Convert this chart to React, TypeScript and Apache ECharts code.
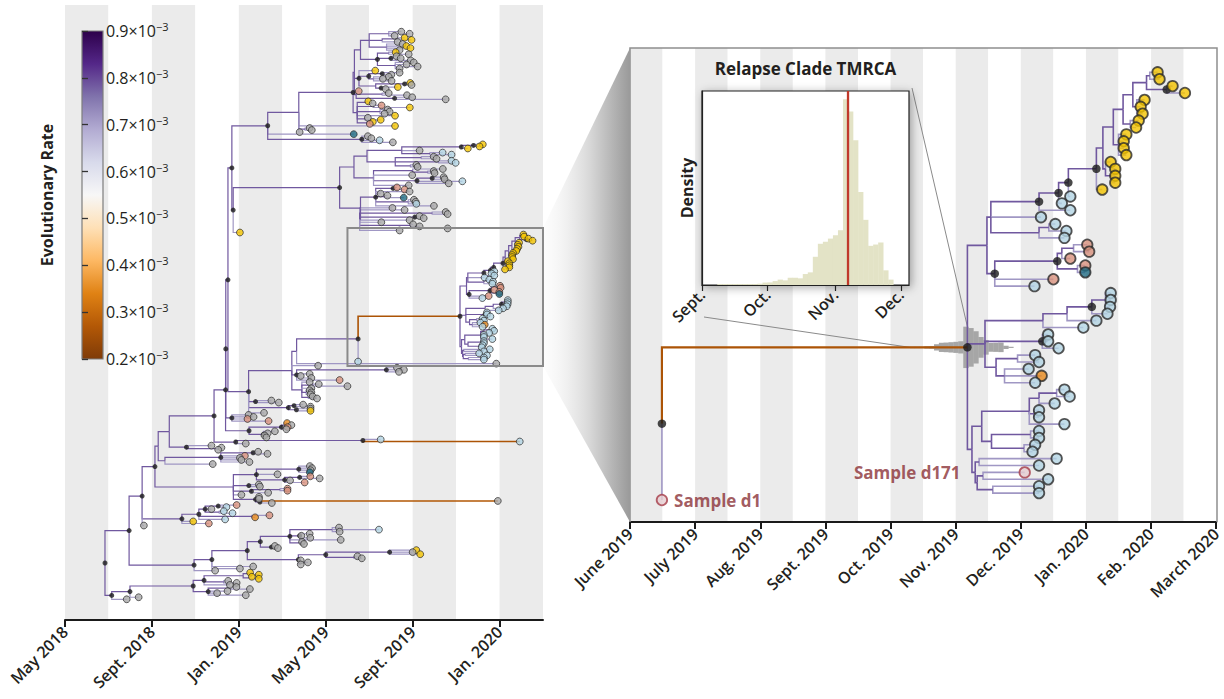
import React, { useEffect, useRef } from 'react';
import * as echarts from 'echarts';

// ---------------- data ----------------
const leftTickValues = [0, 4, 8, 12, 16, 20];
const leftTickLabels = ['May 2018', 'Sept. 2018', 'Jan. 2019', 'May 2019', 'Sept. 2019', 'Jan. 2020'];
const leftAxisMax = 22;
const leftBandMonths = 2;
const rightTickValues = [13, 14, 15, 16, 17, 18, 19, 20, 21, 22];
const rightTickLabels = ['June 2019', 'July 2019', 'Aug. 2019', 'Sept. 2019', 'Oct. 2019', 'Nov. 2019', 'Dec. 2019', 'Jan. 2020', 'Feb. 2020', 'March 2020'];
const rightBandMonths = 0.5;
const zoomWindow = [13, 22];

const histTickValues = [0, 30, 61, 91];
const histTickLabels = ['Sept.', 'Oct.', 'Nov.', 'Dec.'];
const histAxisMaxDay = 94.7;
const histStartDay = 7.0;
const histBinDays = 2.3;
const histHeights = [0.5, 0.5, 0.5, 0.5, 0.5, 0.5, 0.5, 0.5, 0.7, 1.3, 1.4, 2.1, 2.9, 2.5, 3.9, 3.9, 3.6, 5.9, 6.8, 15.2, 22.2, 23.3, 25.0, 26.8, 29.5, 100, 93.4, 78.0, 50.1, 35.1, 21.1, 21.8, 22.9, 7.9, 2.9];
const histMax = 104.5;
const tmrcaDay = 66.8;
const histMonthDays = [30, 31, 30, 31];
const histStartMonth = 16; // Sept. 2019, in months since May 2018

const rateTicks = [0.2, 0.3, 0.4, 0.5, 0.6, 0.7, 0.8, 0.9];
const rateStops = [0.2, 0.27, 0.34, 0.41, 0.48, 0.55, 0.62, 0.69, 0.76, 0.83, 0.9];
const rateColors = ['#7f3b08', '#b35806', '#e08214', '#fdb863', '#fee0b6', '#f7f7f7', '#d8daeb', '#b2abd2', '#8073ac', '#542788', '#2d004b'];
const defaultInternalRate = 0.785;
const defaultTipRate = 0.715;

const tipColors: Record<string, string> = {
  g: '#a9a9a9', y: '#f4c400', s: '#d8917d', b: '#b3d4e3', t: '#1e6a82', o: '#e9891c', d: '#b3d4e3',
};

// Tree in compact Newick-like form; times in months since May 1, 2018.
// tip: <time><colour>[#name][!rate]; internal: (...)<time>[*=dot][!rate][#name]
const relapseNewick = `
((((((((((((((21.10y,21.13y)20.98,(21.33y,21.52y)21.24*)20.93,(20.90y,20.84y,20.87y)20.78)20.72,
(20.81y,20.77y)20.68)20.57,(20.62y,20.58y,20.58y,20.62y)20.50)20.42,(20.38y,(20.45y,20.45y,20.45y)20.40)20.30)20.26,
20.25y)20.16*,19.76b)19.73*,19.63b)19.58*,19.76b)19.28*,19.31b,((19.53b,19.70b)19.43,19.67b)19.28)18.54,
((((20.02s,20.05s)19.81,19.76s)19.63,(19.99s,19.99t)19.87)19.56*,19.50s,19.21b)18.60*)18.48,
(((((20.38b,20.38b,20.37b)20.30,20.33b)20.09*,20.16b)19.71,19.96b)19.34,(19.42b,19.42b,19.58b)19.33*,
((19.22b,19.28b)18.95,(19.12b,19.32o,19.22b)18.75)18.62)18.45,
(((((19.67b,19.75b)19.55,19.52b)19.28,(19.28b,19.28b)19.20,19.67b)19.13,((19.28b,19.28b)19.15,(19.22b,19.18b)19.05)18.55)18.40,
((19.55b,19.28b)18.36,((19.06d#d171,19.42b)18.42,(19.28b,19.28b)18.57)18.33)18.30)18.25)18.18*!0.26#mrca,
13.49d#d1)13.49*#relapse
`;

const fullNewick = `
((((((((((((((((
((15.48g,15.86g,15.17g)14.9,((15.63y,15.95y)15.3,15.31g)14.6,(15.54g,15.71y,15.90y,15.40g)14.8)14.0,
((15.22y,15.82g)14.9,(15.26g,15.45g,15.91g)15.0*,(16.05g,15.72g,16.23g,15.40g)15.2)14.38*)13.6,
(14.28y,((15.40g,15.02g)14.6*,(14.90g,14.63g,15.03g)14.2)13.98*,((15.89y,15.95g)15.63*,(15.32y,14.76g)14.55*)14.3)13.53*,
(13.52s,(14.90g,15.74g)14.6,(15.98g,17.52g)15.17*)13.4)13.32,
((13.96y,14.16g)13.85,(14.57s,15.87y)14.2,(14.85g,14.94g,14.71g)14.5,15.19y,(13.94g,14.53y)13.8,(14.17y,14.03s)13.9)13.45)13.26*,
15.19y,(11.26g,11.36g)11.05,10.80g)10.76,
13.29t,(13.94g,14.10g,14.48b,15.09g)13.66*)9.33*,
(((((((19.23y,19.08y)18.8*,18.54y)18.24*,16.32g,(17.38b,17.79b)16.8)15.5,
((16.97g,17.10g)16.4,(17.79b,17.98b)17.2,(16.17g,16.23g)15.9)15.2)13.9,
((17.39g,(16.97g,17.01g)16.7)16.0,15.98g,((17.43g,17.47g)16.9*,18.29b,17.66g)16.2*,15.82g)14.2)13.3,
(((15.28s,15.63s)15.1*,15.86g,14.53g,(14.84g,15.59t)14.7,(16.06g,16.14g,16.17b)15.8,16.98g)14.3*,
(15.07g,15.63g,(17.52g,17.61g)16.9,(16.32g,16.51g)16.1*,15.86g,14.56g,(16.02g,16.32g)15.9,17.61g,15.40g)13.56)13.6)12.64*,
8.05y)7.74*)7.68*,
(((RELAPSE,19.85g)10.66,11.65g,((15.28g,15.60g,15.37g)14.79*,11.26g,10.85g,11.34g,12.64s)10.66*,
(11.26g,(11.68g,13.00g)11.4,11.34g,(11.26g,11.34g,11.30g)11.1,(11.40g,11.60g)11.2)10.9)10.44,
(9.50g,9.84g)8.77*,((10.96g,11.30g)10.54*,(11.30g,11.30y)10.65*)10.28*,9.16g)8.45*)7.5*,
(8.45g,8.68g,8.40s,9.37s)7.68*)7.40*,
(((10.22o,10.42g,10.25s)10.1,10.19g)9.96*,(9.66g,9.33g,9.18g,9.27g)9.13*)8.47*)7.39*,
((14.53b,20.93b!0.26)13.71*,8.32g)7.86*)6.86*,
(6.74g,(7.20g,7.05g)7.0)5.59*)4.8,
(((8.89g,9.32g)8.66*,8.28s,8.05g,8.12g,8.49g)7.17*,6.80g)4.6)4.29,
(((11.27g,11.37g,11.30g,11.27t)10.76*,9.78g,((11.29s,11.72g)10.8*,10.36g,11.03s)10.11*)8.81*,
(8.92g,8.97g)8.46*,((10.24s,10.24s)9.9,9.35g)8.58*,8.12g,(8.93g,8.93g,(19.92g!0.27,9.52g)8.97*)8.77*)7.75)4.14*,
((((7.90s,7.43b)7.05*,6.74g,(7.31b,7.71b)7.1)6.45*,(9.41s,8.75o)8.6,7.37b)6.16*,5.90y,6.62s)5.38*,
3.63g)3.55*,
((((((12.61g,14.45b,12.64g)12.3,(11.26g,10.88g,11.29g)10.8*,12.69g,(10.91g,11.00g)10.85)10.35*,(9.66g,9.80g)9.5*)8.99*,
(((16.17y,16.00g,16.35y)14.94*,(13.46g,13.66g)13.3)12.0*,(10.85g,11.18g)10.8,10.85g)10.74*)8.39*,
8.66g,8.05g)6.76*,6.91g)5.94*)2.95*,
((((((8.52y,8.92y)8.45,(8.60y,8.92y)8.5)8.2,(7.51g,7.90g)7.3,7.59g)6.40*,
((7.89g,8.51g)7.6,7.48g,7.00g,8.32g)6.59*)5.90*,3.39g)2.99*,2.84g)2.15*)1.84*
`;

// ---------------- layout constants ----------------
const LEFT = { left: 65, top: 5, width: 478, height: 615 };
const RIGHT = { left: 630, top: 48, width: 587, height: 474 };
const INSET = { left: 702, top: 91, width: 207, height: 194 };
const BAR = { left: 82, top: 31, width: 21, height: 328 };
const LEFT_TIP_PX = [31.7, 599.3];
const RIGHT_TIP_PX = [72.3, 500];
const BLOB_SCALE = 0.03;
const FONT = "'Open Sans', 'DejaVu Sans', sans-serif";
const INK = '#231f20';
const sampleLabelPlacement: Record<string, { position: string; distance: number }> = {
  d1: { position: 'right', distance: 6 },
  d171: { position: 'left', distance: 58 },
};

// ---------------- helpers ----------------
function parseTree(src: string): any {
  const s = src.replace(/\s+/g, '');
  let i = 0;
  const num = () => {
    const m = /^-?\d+(\.\d+)?/.exec(s.slice(i));
    if (!m) throw new Error('number expected at ' + i);
    i += m[0].length;
    return parseFloat(m[0]);
  };
  const flags = (n: any) => {
    while (i < s.length) {
      const c = s[i];
      if (c === '*') { n.dot = true; i++; }
      else if (c === '!') { i++; n.rate = num(); }
      else if (c === '#') { i++; const m = /^[A-Za-z0-9]+/.exec(s.slice(i))!; n.name = m[0]; i += m[0].length; }
      else break;
    }
  };
  const node = (): any => {
    if (s[i] === '(') {
      i++;
      const children = [node()];
      while (s[i] === ',') { i++; children.push(node()); }
      if (s[i] !== ')') throw new Error(') expected at ' + i);
      i++;
      const n: any = { t: num(), children };
      flags(n);
      return n;
    }
    const n: any = { t: num(), color: s[i] };
    i++;
    flags(n);
    return n;
  };
  const root = node();
  if (i !== s.length) throw new Error('unparsed tree text at ' + i + ': ' + s.slice(i, i + 30));
  return root;
}

function layoutTree(root: any) {
  const branches: number[][] = [];
  const tips: any[] = [];
  const dots: number[][] = [];
  let idx = 0;
  const visit = (n: any) => {
    if (!n.children) { n.y = idx; n.lo = idx; n.hi = idx; idx += 1; tips.push(n); return; }
    n.children.forEach(visit);
    const first = n.children[0];
    const last = n.children[n.children.length - 1];
    n.y = (first.y + last.y) / 2;
    n.lo = first.lo; n.hi = last.hi;
    n.children.forEach((c: any) => branches.push([n.t, n.y, c.t, c.y, c.rate ?? (c.children ? defaultInternalRate : defaultTipRate)]));
    if (n.dot) dots.push([n.t, n.y]);
  };
  visit(root);
  return { branches, tips, dots, count: idx };
}

function findNode(n: any, name: string): any {
  if (n.name === name) return n;
  for (const c of n.children || []) { const f = findNode(c, name); if (f) return f; }
  return null;
}

function hexToRgb(h: string) { const v = parseInt(h.slice(1), 16); return [(v >> 16) & 255, (v >> 8) & 255, v & 255]; }
function rateColor(r: number) {
  if (r <= rateStops[0]) return rateColors[0];
  for (let k = 1; k < rateStops.length; k++) {
    if (r <= rateStops[k]) {
      const f = (r - rateStops[k - 1]) / (rateStops[k] - rateStops[k - 1]);
      const a = hexToRgb(rateColors[k - 1]); const b = hexToRgb(rateColors[k]);
      const c = a.map((x, j) => Math.round(x + (b[j] - x) * f));
      return `rgb(${c[0]},${c[1]},${c[2]})`;
    }
  }
  return rateColors[rateColors.length - 1];
}

function dayToT(d: number) {
  let t = histStartMonth;
  for (const m of histMonthDays) { if (d <= m) return t + d / m; d -= m; t += 1; }
  return t;
}

function yRange(count: number, grid: any, px: number[]) {
  const s = (px[1] - px[0]) / (count - 1);
  return { min: -(px[0] - grid.top) / s, max: count - 1 + (grid.top + grid.height - px[1]) / s };
}

const branchRenderer = (lw: number) => (params: any, api: any) => {
  const p = api.coord([api.value(0), api.value(1)]);
  const m = api.coord([api.value(0), api.value(3)]);
  const c = api.coord([api.value(2), api.value(3)]);
  const r = api.value(4);
  return {
    type: 'polyline',
    shape: { points: [p, m, c] },
    style: { stroke: rateColor(r), fill: 'none', lineWidth: r < 0.5 ? lw * 1.35 : lw, lineJoin: 'miter' },
  };
};

function bandAxis(gridIndex: number, min: number, max: number, interval: number) {
  return {
    gridIndex, type: 'value', min, max, interval, position: 'top',
    axisLine: { show: false }, axisTick: { show: false }, axisLabel: { show: false },
    splitLine: { show: false },
    splitArea: { show: true, areaStyle: { color: ['#ebebeb', '#ffffff'] } },
  };
}

function buildOption() {
  const leftTree = parseTree(fullNewick.replace('RELAPSE', relapseNewick.replace(/\s+/g, '')));
  const rightTree = parseTree(relapseNewick);
  const L = layoutTree(leftTree);
  const R = layoutTree(rightTree);
  const lRange = yRange(L.count, LEFT, LEFT_TIP_PX);
  const rRange = yRange(R.count, RIGHT, RIGHT_TIP_PX);
  const leftRelapse = findNode(leftTree, 'relapse');
  const mrca = findNode(rightTree, 'mrca');

  const bins = histHeights.map((h, k) => [histStartDay + k * histBinDays, histStartDay + (k + 1) * histBinDays, h]);
  const blobBins = bins.map((b) => [dayToT(b[0]), dayToT(b[1]), b[2]]);
  const firstVisible = bins.find((b) => b[2] >= 3.5)!;
  const blobStartT = dayToT(firstVisible[0]);
  const maxH = Math.max(...histHeights);

  const labelFmt = (vals: number[], labs: string[]) => (v: number) => {
    const k = vals.findIndex((x) => Math.abs(x - v) < 1e-6);
    return k >= 0 ? labs[k] : '';
  };
  const axisLabelStyle = { rotate: 45, fontSize: 16, fontWeight: 600, color: INK, fontFamily: FONT, margin: 9 };

  const leftTipData = L.tips.map((n: any) => ({ value: [n.t, n.y], itemStyle: { color: tipColors[n.color] } }));
  const rightTipData = R.tips.map((n: any) => {
    if (n.color === 'd') {
      const place = sampleLabelPlacement[n.name] || { position: 'right', distance: 6 };
      return {
        value: [n.t, n.y],
        itemStyle: { color: '#e6cdd1', borderColor: '#a53b47', borderWidth: 1.8 },
        label: {
          show: true, formatter: 'Sample ' + n.name, position: place.position, distance: place.distance,
          color: '#8a3036', fontSize: 17, fontWeight: 'bold', fontFamily: FONT,
        },
      };
    }
    return { value: [n.t, n.y], itemStyle: { color: tipColors[n.color] } };
  });

  const barGradient = new echarts.graphic.LinearGradient(0, 0, 0, 1,
    rateStops.map((v, k) => ({ offset: (0.9 - v) / 0.7, color: rateColors[k] })).sort((a, b) => a.offset - b.offset));

  return {
    animation: false,
    textStyle: { fontFamily: FONT },
    grid: [
      { ...LEFT },
      { ...RIGHT },
      { ...INSET, show: true, backgroundColor: '#ffffff', borderColor: '#222', borderWidth: 1.2, shadowBlur: 10, shadowColor: 'rgba(0,0,0,0.35)', shadowOffsetX: 2, shadowOffsetY: 2, z: 5 },
      { ...BAR },
    ],
    xAxis: [
      {
        gridIndex: 0, type: 'value', min: 0, max: leftAxisMax, interval: 4,
        splitLine: { show: false },
        axisLine: { show: true, onZero: false, lineStyle: { color: '#1a1a1a', width: 2 } },
        axisTick: { show: true, customValues: leftTickValues, length: 7, lineStyle: { color: '#1a1a1a', width: 2 } },
        axisLabel: { ...axisLabelStyle, customValues: leftTickValues, formatter: labelFmt(leftTickValues, leftTickLabels) },
      },
      {
        gridIndex: 1, type: 'value', min: zoomWindow[0], max: zoomWindow[1], interval: 1,
        splitLine: { show: false },
        axisLine: { show: true, onZero: false, lineStyle: { color: '#1a1a1a', width: 2.2 } },
        axisTick: { show: true, customValues: rightTickValues, length: 7, lineStyle: { color: '#1a1a1a', width: 2 } },
        axisLabel: { ...axisLabelStyle, customValues: rightTickValues, formatter: labelFmt(rightTickValues, rightTickLabels) },
      },
      {
        gridIndex: 2, type: 'value', min: 0, max: histAxisMaxDay, z: 6,
        splitLine: { show: false },
        axisLine: { show: true, onZero: false, lineStyle: { color: '#222', width: 1.2 } },
        axisTick: { show: true, customValues: histTickValues, length: 6, lineStyle: { color: '#222', width: 1.2 } },
        axisLabel: { ...axisLabelStyle, margin: 7, customValues: histTickValues, formatter: labelFmt(histTickValues, histTickLabels) },
      },
      { gridIndex: 3, type: 'value', min: 0, max: 1, show: false },
      bandAxis(0, 0, leftAxisMax, leftBandMonths),
      bandAxis(1, zoomWindow[0], zoomWindow[1], rightBandMonths),
    ],
    yAxis: [
      { gridIndex: 0, type: 'value', inverse: true, min: lRange.min, max: lRange.max, show: false },
      { gridIndex: 1, type: 'value', inverse: true, min: rRange.min, max: rRange.max, show: false },
      {
        gridIndex: 2, type: 'value', min: 0, max: histMax, z: 6,
        axisLine: { show: true, lineStyle: { color: '#222', width: 1.2 } },
        axisTick: { show: false }, axisLabel: { show: false }, splitLine: { show: false },
        name: 'Density', nameLocation: 'middle', nameGap: 7,
        nameTextStyle: { fontSize: 16, fontWeight: 'bold', color: INK, fontFamily: FONT },
      },
      {
        gridIndex: 3, type: 'value', position: 'right', min: 0.2, max: 0.9, interval: 0.1, z: 3,
        axisLine: { show: false }, splitLine: { show: false },
        axisTick: { show: true, length: 6, lineStyle: { color: '#333', width: 1.3 } },
        axisLabel: {
          margin: 3,
          formatter: (v: number) => `{a|${v.toFixed(1)}×10}{b|−3}`,
          rich: {
            a: { fontSize: 16, color: INK, fontFamily: FONT },
            b: { fontSize: 11, color: INK, fontFamily: FONT, padding: [0, 0, 9, 0] },
          },
        },
      },
      {
        gridIndex: 3, type: 'value', position: 'left', min: 0.2, max: 0.9, z: 3,
        axisLine: { show: false }, axisTick: { show: false }, axisLabel: { show: false }, splitLine: { show: false },
        name: 'Evolutionary Rate', nameLocation: 'middle', nameGap: 27, nameRotate: 90,
        nameTextStyle: { fontSize: 16, fontWeight: 'bold', color: INK, fontFamily: FONT },
      },
    ],
    graphic: [
      {
        type: 'text', x: INSET.left + INSET.width / 2, y: 60, z: 20,
        style: { text: 'Relapse Clade TMRCA', font: `bold 17px ${FONT}`, fill: INK, textAlign: 'center', textVerticalAlign: 'top' },
      },
    ],
    series: [
      // ---- colour bar
      {
        type: 'custom', xAxisIndex: 3, yAxisIndex: 3, silent: true, z: 3,
        data: [[0, 1, rateTicks[0], rateTicks[rateTicks.length - 1]]],
        renderItem: (params: any, api: any) => {
          const a = api.coord([api.value(0), api.value(3)]);
          const b = api.coord([api.value(1), api.value(2)]);
          return { type: 'rect', shape: { x: a[0], y: a[1], width: b[0] - a[0], height: b[1] - a[1] }, style: { fill: barGradient, stroke: '#7d7d7d', lineWidth: 1.2 } };
        },
      },
      // ---- left tree
      { type: 'custom', xAxisIndex: 0, yAxisIndex: 0, silent: true, z: 2, data: L.branches, renderItem: branchRenderer(1.2) },
      { type: 'scatter', xAxisIndex: 0, yAxisIndex: 0, silent: true, z: 3, data: L.dots, symbolSize: 5, itemStyle: { color: '#1c1c1c' } },
      { type: 'scatter', xAxisIndex: 0, yAxisIndex: 0, silent: true, z: 4, data: leftTipData, symbolSize: 6.8, itemStyle: { borderColor: '#2a2a2a', borderWidth: 0.9 } },
      // ---- zoom box + connector
      {
        type: 'custom', xAxisIndex: 0, yAxisIndex: 0, silent: true, z: 5,
        data: [[zoomWindow[0], zoomWindow[1], leftRelapse.lo - 3.2, leftRelapse.hi + 2.2]],
        renderItem: (params: any, api: any) => {
          const a = api.coord([api.value(0), api.value(2)]);
          const b = api.coord([api.value(1), api.value(3)]);
          const grad = new echarts.graphic.LinearGradient(0, 0, 1, 0, [
            { offset: 0, color: 'rgba(245,245,245,0.2)' },
            { offset: 0.55, color: '#d6d6d6' },
            { offset: 1, color: '#9a9a9a' },
          ]);
          return {
            type: 'group',
            children: [
              { type: 'polygon', shape: { points: [[b[0], a[1]], [RIGHT.left, RIGHT.top], [RIGHT.left, RIGHT.top + RIGHT.height], [b[0], b[1]]] }, style: { fill: grad } },
              { type: 'rect', shape: { x: a[0], y: a[1], width: b[0] - a[0], height: b[1] - a[1] }, style: { fill: 'none', stroke: '#8a8a8a', lineWidth: 2 } },
            ],
          };
        },
      },
      // ---- right: TMRCA density blob
      {
        type: 'custom', xAxisIndex: 1, yAxisIndex: 1, silent: true, z: 2, data: blobBins,
        renderItem: (params: any, api: any) => {
          const h = api.value(2) * BLOB_SCALE;
          const a = api.coord([api.value(0), mrca.y - h]);
          const b = api.coord([api.value(1), mrca.y + h]);
          return { type: 'rect', shape: { x: a[0], y: a[1], width: b[0] - a[0] + 0.4, height: b[1] - a[1] }, style: { fill: '#a6a6a6' } };
        },
      },
      // ---- right: frame and inset connector lines
      {
        type: 'custom', xAxisIndex: 1, yAxisIndex: 1, silent: true, z: 2, data: [[0]],
        renderItem: (params: any, api: any) => {
          const pLeft = api.coord([blobStartT, mrca.y]);
          const pTop = api.coord([mrca.t, mrca.y - maxH * BLOB_SCALE]);
          const l = RIGHT.left, t = RIGHT.top, r = RIGHT.left + RIGHT.width, btm = RIGHT.top + RIGHT.height;
          return {
            type: 'group',
            children: [
              { type: 'polyline', shape: { points: [[l, btm], [l, t], [r, t], [r, btm]] }, style: { stroke: '#8f8f8f', lineWidth: 1.5, fill: 'none' } },
              { type: 'line', shape: { x1: INSET.left + 2, y1: INSET.top + INSET.height + 32, x2: pLeft[0], y2: pLeft[1] }, style: { stroke: '#8a8a8a', lineWidth: 1 } },
              { type: 'line', shape: { x1: INSET.left + INSET.width + 3, y1: INSET.top - 3, x2: pTop[0], y2: pTop[1] }, style: { stroke: '#8a8a8a', lineWidth: 1 } },
            ],
          };
        },
      },
      // ---- right tree
      { type: 'custom', xAxisIndex: 1, yAxisIndex: 1, silent: true, z: 3, data: R.branches, renderItem: branchRenderer(1.6) },
      { type: 'scatter', xAxisIndex: 1, yAxisIndex: 1, silent: true, z: 4, data: R.dots, symbolSize: 8.5, itemStyle: { color: '#1c1c1c' } },
      { type: 'scatter', xAxisIndex: 1, yAxisIndex: 1, silent: true, z: 5, data: rightTipData, symbolSize: 10.5, itemStyle: { borderColor: '#2a2a2a', borderWidth: 1.8 } },
      // ---- inset histogram
      {
        type: 'custom', xAxisIndex: 2, yAxisIndex: 2, silent: true, z: 6, data: bins,
        renderItem: (params: any, api: any) => {
          const a = api.coord([api.value(0), api.value(2)]);
          const b = api.coord([api.value(1), 0]);
          return { type: 'rect', shape: { x: a[0], y: a[1], width: b[0] - a[0] + 0.3, height: b[1] - a[1] }, style: { fill: '#e3e3c6' } };
        },
      },
      {
        type: 'custom', xAxisIndex: 2, yAxisIndex: 2, silent: true, z: 7, data: [[tmrcaDay]],
        renderItem: (params: any, api: any) => {
          const a = api.coord([api.value(0), 0]);
          const b = api.coord([api.value(0), histMax]);
          return { type: 'line', shape: { x1: a[0], y1: a[1], x2: b[0], y2: b[1] }, style: { stroke: '#c0392b', lineWidth: 2.3 } };
        },
      },
    ],
  };
}

export default function App() {
  const ref = useRef<HTMLDivElement>(null);
  useEffect(() => {
    const chart = echarts.init(ref.current!, null, { renderer: 'svg' });
    chart.setOption(buildOption() as any);
    return () => chart.dispose();
  }, []);
  return <div ref={ref} style={{ position: 'absolute', left: 0, top: 0, width: 1224, height: 699, background: '#ffffff' }} />;
}
